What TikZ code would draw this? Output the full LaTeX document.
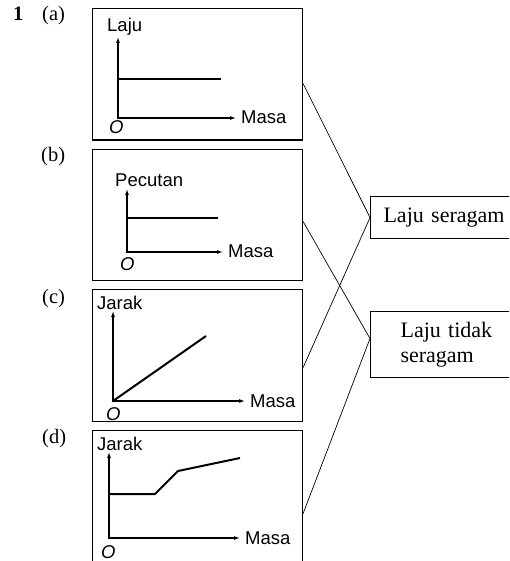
\documentclass[tikz,border=0pt]{standalone}
\usepackage{fontspec}
\setmainfont{Liberation Serif}
\setsansfont{Liberation Sans}
\usetikzlibrary{arrows.meta}
\begin{document}
\begin{tikzpicture}[x=1pt,y=-1pt,
  panel/.style={draw, line width=1.1pt, anchor=north west, minimum width=210pt, inner sep=0pt},
  axis/.style={line width=1.1pt, line join=miter, {Latex[length=6pt,width=4pt]}-{Latex[length=6pt,width=4pt]}},
  dataline/.style={line width=2pt, line join=miter},
  lab/.style={anchor=base west, inner sep=0pt, font=\fontsize{18.5}{20}\sffamily},
  orig/.style={anchor=base west, inner sep=0pt, font=\fontsize{18.5}{20}\sffamily\itshape},
  qlab/.style={anchor=base west, inner sep=0pt, font=\fontsize{20.5}{24}\selectfont},
  ansbox/.style={draw, line width=1.1pt, anchor=north west, inner ysep=0pt, align=left, font=\fontsize{22}{25.5}\selectfont},
  link/.style={line width=0.7pt}]
\useasboundingbox (0,0) rectangle (509,561);
\clip (0,0) rectangle (509,561);

% question labels
\node[qlab, font=\fontsize{20.5}{24}\selectfont\bfseries] (q1) at (13,21) {1};
\node[qlab] (qa) at (42,21) {(a)};
\node[qlab] (qb) at (41,162) {(b)};
\node[qlab] (qc) at (42,303) {(c)};
\node[qlab] (qd) at (42,443) {(d)};

% panels
\node[panel, minimum height=131.5pt] (pa) at (92,8) {};
\node[panel, minimum height=131pt] (pb) at (92,149) {};
\node[panel, minimum height=132pt] (pc) at (92,289) {};
\node[panel, minimum height=160pt] (pd) at (92,430) {};

% graph (a)
\draw[axis] (118,37) -- (118,118) -- (236,118);
\draw[dataline] (118,79) -- (221,79);
\node[lab] (ya) at (107,32) {Laju};
\node[lab] (xa) at (241,124) {Masa};
\node[orig] (oa) at (109,134) {O};

% graph (b)
\draw[axis] (127,189) -- (127,252) -- (223,252);
\draw[dataline] (127,218) -- (218,218);
\node[lab] (yb) at (115,186) {Pecutan};
\node[lab] (xb) at (228,257) {Masa};
\node[orig] (ob) at (120,270) {O};

% graph (c)
\draw[axis] (113,311) -- (113,401) -- (245,401);
\draw[dataline] (113,401) -- (206,336);
\node[lab] (yc) at (97,309) {Jarak};
\node[lab] (xc) at (250,407) {Masa};
\node[orig] (oc) at (106,420) {O};

% graph (d)
\draw[axis] (109,452) -- (109,538) -- (240,538);
\draw[dataline] (109,494) -- (155,494) -- (178,471) -- (240,458);
\node[lab] (yd) at (97,450) {Jarak};
\node[lab] (xd) at (245,544) {Masa};
\node[orig] (od) at (101,558) {O};

% answer boxes
\node[ansbox, minimum height=42pt, inner xsep=13pt, text width=160pt] (rs) at (370,196) {Laju seragam};
\node[ansbox, minimum height=66pt, inner xsep=30pt, text width=150pt] (rt) at (370,311) {Laju tidak\\seragam};

% connector end points
\coordinate (ca) at ([yshift=-9.25pt]pa.east);
\coordinate (cb) at ([yshift=-6.5pt]pb.east);
\coordinate (cc) at ([yshift=-12pt]pc.east);
\coordinate (cd) at ([yshift=-3pt]pd.east);
\coordinate (ct) at ([yshift=6pt]rt.west);

\draw[link] (ca) -- (rs.west);
\draw[link] (cb) -- (ct);
\draw[link] (cc) -- (rs.west);
\draw[link] (cd) -- (ct);
\end{tikzpicture}
\end{document}
